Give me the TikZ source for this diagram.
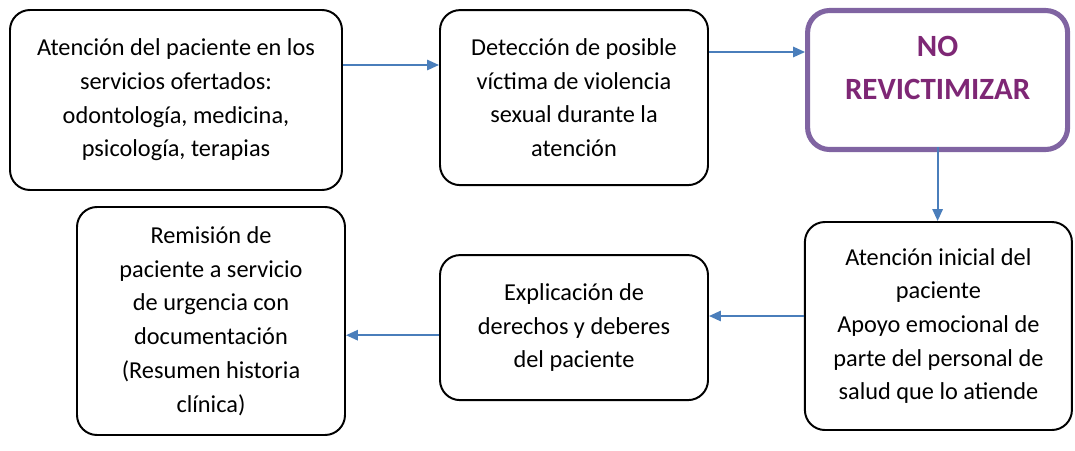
\documentclass[tikz,border=0pt]{standalone}
\usepackage{fontspec}
\setmainfont{Carlito}
\usetikzlibrary{arrows.meta}
\definecolor{arrowblue}{HTML}{4A7EBB}
\definecolor{framepurple}{HTML}{8064A2}
\definecolor{textpurple}{HTML}{7E2775}
\begin{document}
\begin{tikzpicture}[
	stepbox/.style={draw=black, line width=1.4pt, rounded corners=0.5cm, align=center,
		inner sep=0pt, font=\fontsize{17.3}{24}\selectfont},
	keybox/.style={draw=framepurple, line width=3.6pt, rounded corners=0.55cm, align=center,
		inner sep=0pt, text=textpurple, font=\fontsize{22}{31}\selectfont\bfseries},
	arr/.style={draw=arrowblue, line width=1.3pt, -{Triangle[length=0.3cm, width=0.26cm]}}
	]
	\useasboundingbox (0, 0) rectangle (26.875, -11.25);
	% top row
	\node[stepbox, minimum width=8.3cm, minimum height=4.5cm] (atencion) at (4.4, -2.5)
		{Atención del paciente en los\\servicios ofertados:\\odontología, medicina,\\psicología, terapias};
	\node[stepbox, minimum width=6.7cm, minimum height=4.375cm] (deteccion) at (14.35, -2.44)
		{Detección de posible\\víctima de violencia\\sexual durante la\\atención};
	\node[keybox, minimum width=6.5cm, minimum height=3.475cm] (norevic) at (23.44, -2.0)
		{NO\\REVICTIMIZAR\\[-14pt]\mbox{}};
	% bottom row
	\node[stepbox, minimum width=6.675cm, minimum height=5.2cm] (inicial) at (23.46, -8.15)
		{Atención inicial del\\paciente\\Apoyo emocional de\\parte del personal de\\salud que lo atiende};
	\node[stepbox, minimum width=6.7cm, minimum height=3.625cm] (derechos) at (14.35, -8.19)
		{Explicación de\\derechos y deberes\\del paciente};
	\node[stepbox, minimum width=6.7cm, minimum height=5.7cm] (remision) at (5.275, -8.025)
		{Remisión de\\paciente a servicio\\de urgencia con\\documentación\\(Resumen historia\\clínica)};
	% arrows
	\draw[arr] ([yshift=0.875cm]atencion.east) -- ([yshift=0.875cm]atencion.east -| deteccion.west);
	\draw[arr] ([yshift=1.14cm]deteccion.east) -- ([yshift=1.14cm]deteccion.east -| norevic.west);
	\draw[arr] ([yshift=0.12cm]norevic.south) -- (norevic.south |- inicial.north);
	\draw[arr] ([yshift=0.25cm]inicial.west) -- ([yshift=0.25cm]inicial.west -| derechos.east);
	\draw[arr] ([yshift=-0.19cm]derechos.west) -- ([yshift=-0.19cm]derechos.west -| remision.east);
\end{tikzpicture}
\end{document}
